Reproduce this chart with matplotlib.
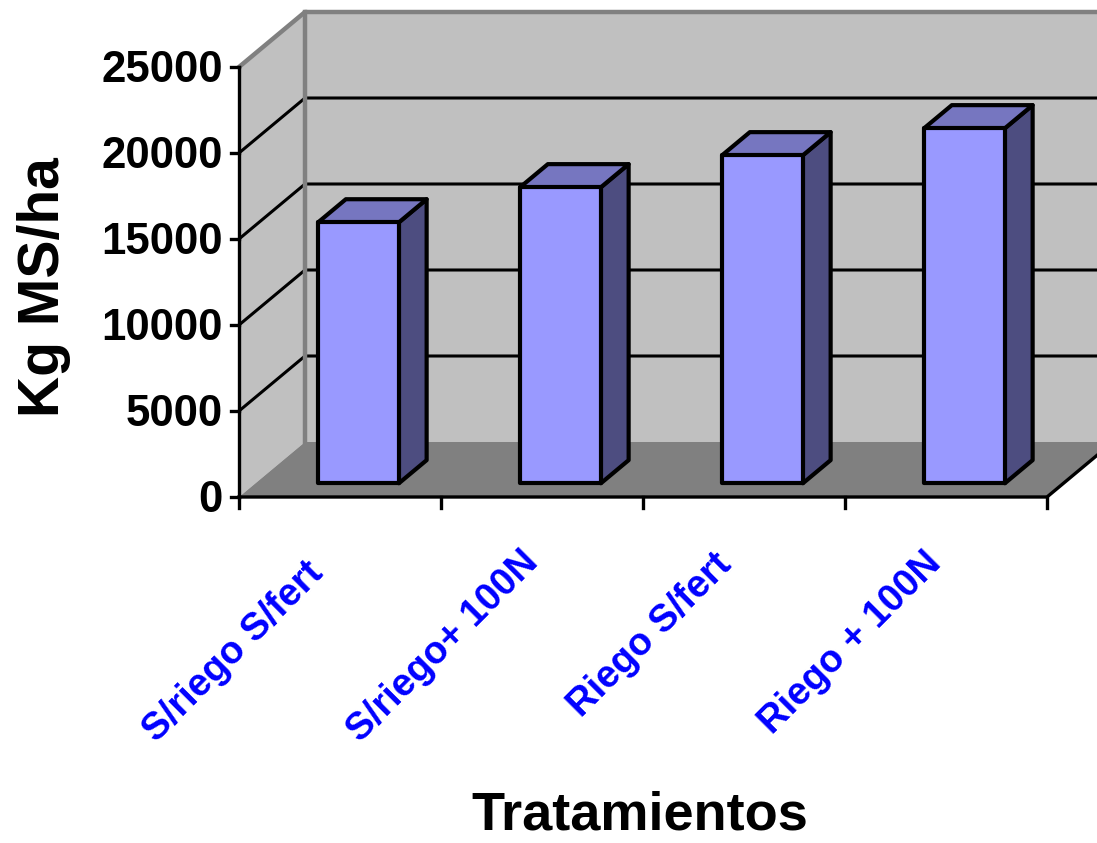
import matplotlib
matplotlib.use('Agg')
import matplotlib.pyplot as plt
from matplotlib.patches import Polygon

plt.rcParams['font.family'] = ['Liberation Sans', 'DejaVu Sans']

categories = ['S/riego S/fert', 'S/riego+ 100N', 'Riego S/fert', 'Riego + 100N']
values = [15170, 17210, 19070, 20640]
y_ticks = [0, 5000, 10000, 15000, 20000, 25000]

# how far one unit of depth moves a point, in axis units
depth_x = 66 / 202
depth_y = 55 / 430 * 25000
px_y = 25000 / 430


def proj(x, y, d):
    return (x + d * depth_x, y + d * depth_y)


def face(ax, pts, color, lw=3.0, edge='black', z=3):
    ax.add_patch(Polygon(pts, closed=True, facecolor=color, edgecolor=edge,
                         linewidth=lw, joinstyle='round', clip_on=False, zorder=z))


fig = plt.figure(figsize=(10.97, 8.43), dpi=100)
ax = fig.add_axes([239 / 1097, (843 - 497) / 843, 808 / 1097, 430 / 843])
ax.set_xlim(0, 4)
ax.set_ylim(0, 25000)
ax.axis('off')

# walls and floor
wall = '#c0c0c0'
frame = '#808080'
face(ax, [proj(0, 0, 1), proj(4.4, 0, 1), proj(4.4, 25000, 1), proj(0, 25000, 1)], wall, edge='none', z=1)
face(ax, [proj(0, 0, 0), proj(0, 0, 1), proj(0, 25000, 1), proj(0, 25000, 0)], wall, edge='none', z=1)
face(ax, [proj(0, 0, 0), proj(4, 0, 0), proj(4, 0, 1), proj(4.4, 0, 1), proj(0, 0, 1)], frame, edge='none', z=1)

# gridlines on both walls
for t in y_ticks[1:-1]:
    ax.plot(*zip(proj(0, t, 0), proj(0, t, 1), proj(4.4, t, 1)), color='black', lw=2.2, clip_on=False, zorder=2)

# grey outline at the top and back corner
ax.plot(*zip(proj(0, 25000, 0), proj(0, 25000, 1), proj(4.4, 25000, 1)), color=frame, lw=3.2, clip_on=False, zorder=2)
ax.plot(*zip(proj(0, 0, 1), proj(0, 25000, 1)), color=frame, lw=3.2, clip_on=False, zorder=2)

# front axis lines, ticks and the floor's right edge
ax.plot([0, 0], [0, 25000], color='black', lw=2.4, clip_on=False, zorder=4)
ax.plot(*zip(proj(0, 0, 0), proj(4, 0, 0), proj(4, 0, 1), proj(4.1, 0, 1)), color='black', lw=2.4, clip_on=False, zorder=4)
for t in y_ticks:
    ax.plot([-8 / 202, 0], [t, t], color='black', lw=2.4, clip_on=False, zorder=4)
    ax.text(-16 / 202, t - 4 * px_y, str(t), ha='right', va='center', fontsize=31.5, fontweight='bold')
for i in range(5):
    ax.plot([i, i], [0, -11 * px_y], color='black', lw=2.4, clip_on=False, zorder=4)

# bars as three visible faces
bar_w = 0.4
d0, d1 = 0.25, 0.67
for i, v in enumerate(values):
    x0 = i + 0.51 - bar_w / 2
    x1 = x0 + bar_w
    face(ax, [proj(x1, 0, d0), proj(x1, 0, d1), proj(x1, v, d1), proj(x1, v, d0)], '#4d4d80')
    face(ax, [proj(x0, v, d0), proj(x1, v, d0), proj(x1, v, d1), proj(x0, v, d1)], '#7676c0')
    face(ax, [proj(x0, 0, d0), proj(x1, 0, d0), proj(x1, v, d0), proj(x0, v, d0)], '#9999ff')

# rotated category labels, anchored at their upper right end
label_x = [305, 520, 713, 923]
label_y = [58, 47, 50, 48]
for i, name in enumerate(categories):
    px = (label_x[i] - 239) / 202
    ax.text(px, -label_y[i] * px_y, name, rotation=45, rotation_mode='anchor', ha='right', va='top',
            color='#0000ff', fontsize=27.5, fontweight='bold')

fig.text(640 / 1097, 1 - 816 / 843, 'Tratamientos', ha='center', va='center', fontsize=39, fontweight='bold')
fig.text(44 / 1097, 1 - 287 / 843, 'Kg MS/ha', rotation=90, ha='center', va='center', fontsize=41, fontweight='bold')

fig.savefig('out.png', dpi=100)
